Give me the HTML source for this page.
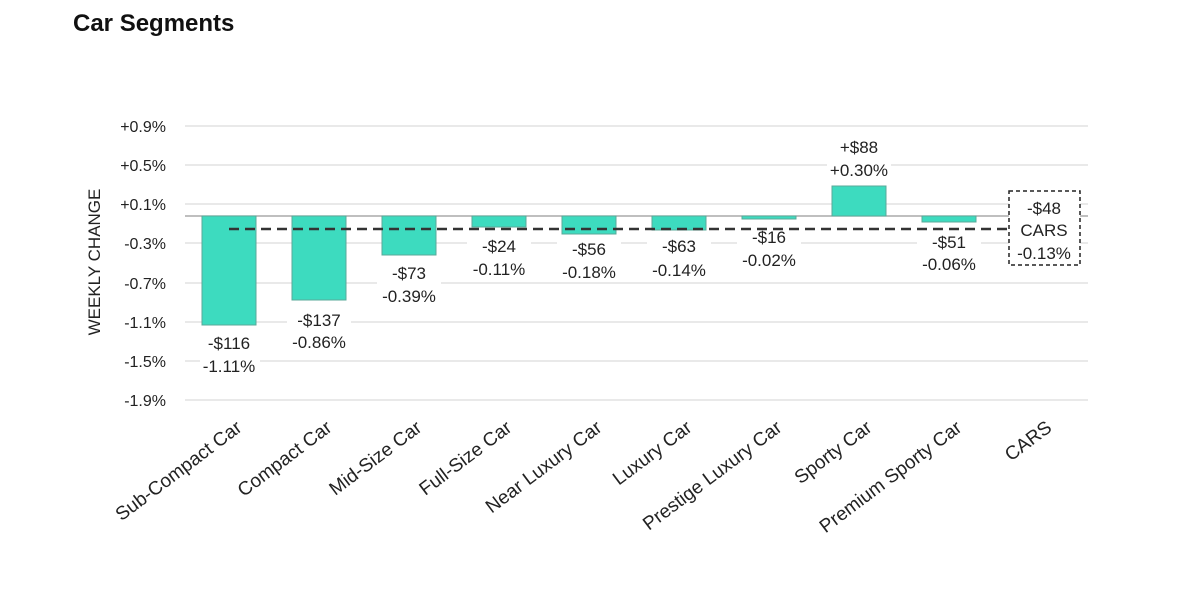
<!DOCTYPE html>
<html><head><meta charset="utf-8"><style>
body{margin:0;background:#fff;width:1200px;height:588px;overflow:hidden;font-family:"Liberation Sans",sans-serif}
</style></head><body>
<svg width="1200" height="588" xmlns="http://www.w3.org/2000/svg" font-family="Liberation Sans, sans-serif">
<text x="73" y="31" font-size="24" font-weight="bold" fill="#111">Car Segments</text>
<g stroke="#e2e2e2" stroke-width="1.5">
<line x1="185" x2="1088" y1="126" y2="126"/><line x1="185" x2="1088" y1="165" y2="165"/>
<line x1="185" x2="1088" y1="204" y2="204"/><line x1="185" x2="1088" y1="243" y2="243"/>
<line x1="185" x2="1088" y1="283" y2="283"/><line x1="185" x2="1088" y1="322" y2="322"/>
<line x1="185" x2="1088" y1="361" y2="361"/><line x1="185" x2="1088" y1="400" y2="400"/>
</g>
<g font-size="16" fill="#222" text-anchor="end">
<text x="166" y="132">+0.9%</text><text x="166" y="171">+0.5%</text><text x="166" y="210">+0.1%</text>
<text x="166" y="249">-0.3%</text><text x="166" y="289">-0.7%</text><text x="166" y="328">-1.1%</text>
<text x="166" y="367">-1.5%</text><text x="166" y="406">-1.9%</text>
</g>
<text transform="translate(100,262) rotate(-90)" font-size="17" fill="#222" text-anchor="middle">WEEKLY CHANGE</text>
<line x1="185" x2="1088" y1="216" y2="216" stroke="#999" stroke-width="1.2"/>
<g fill="#3ddbbf" stroke="#5aa898" stroke-width="1">
<rect x="202" y="216" width="54" height="109"/>
<rect x="292" y="216" width="54" height="84"/>
<rect x="382" y="216" width="54" height="39"/>
<rect x="472" y="216" width="54" height="11"/>
<rect x="562" y="216" width="54" height="18"/>
<rect x="652" y="216" width="54" height="14"/>
<rect x="742" y="216" width="54" height="3"/>
<rect x="832" y="186" width="54" height="30"/>
<rect x="922" y="216" width="54" height="6"/>
</g>
<line x1="229" x2="1009" y1="229" y2="229" stroke="#333" stroke-width="2.5" stroke-dasharray="10,6"/>
<g fill="#fff">
<rect x="200" y="330" width="60" height="44"/><rect x="287" y="307" width="64" height="44"/>
<rect x="377" y="260" width="64" height="44"/><rect x="467" y="233" width="64" height="44"/>
<rect x="557" y="236" width="64" height="44"/><rect x="647" y="233" width="64" height="44"/>
<rect x="737" y="234" width="64" height="35"/><rect x="917" y="234" width="64" height="38"/>
<rect x="827" y="134" width="64" height="44"/>
</g>
<g font-size="17" fill="#222" text-anchor="middle">
<text x="229" y="349">-$116</text><text x="229" y="372">-1.11%</text>
<text x="319" y="326">-$137</text><text x="319" y="348">-0.86%</text>
<text x="409" y="279">-$73</text><text x="409" y="302">-0.39%</text>
<text x="499" y="252">-$24</text><text x="499" y="275">-0.11%</text>
<text x="589" y="255">-$56</text><text x="589" y="278">-0.18%</text>
<text x="679" y="252">-$63</text><text x="679" y="276">-0.14%</text>
<text x="769" y="243">-$16</text><text x="769" y="266">-0.02%</text>
<text x="859" y="153">+$88</text><text x="859" y="176">+0.30%</text>
<text x="949" y="248">-$51</text><text x="949" y="270">-0.06%</text>
</g>
<rect x="1009" y="191" width="71" height="74" fill="#fff" stroke="#222" stroke-width="1.5" stroke-dasharray="4,3"/>
<g font-size="17" fill="#222" text-anchor="middle">
<text x="1044" y="214">-$48</text><text x="1044" y="236">CARS</text><text x="1044" y="259">-0.13%</text>
</g>
<g font-size="19" fill="#222" text-anchor="end">
<text transform="translate(243,430) rotate(-37)">Sub-Compact Car</text>
<text transform="translate(333,430) rotate(-37)">Compact Car</text>
<text transform="translate(423,430) rotate(-37)">Mid-Size Car</text>
<text transform="translate(513,430) rotate(-37)">Full-Size Car</text>
<text transform="translate(603,430) rotate(-37)">Near Luxury Car</text>
<text transform="translate(693,430) rotate(-37)">Luxury Car</text>
<text transform="translate(783,430) rotate(-37)">Prestige Luxury Car</text>
<text transform="translate(873,430) rotate(-37)">Sporty Car</text>
<text transform="translate(963,430) rotate(-37)">Premium Sporty Car</text>
<text transform="translate(1053,430) rotate(-37)">CARS</text>
</g>
</svg>
</body></html>
